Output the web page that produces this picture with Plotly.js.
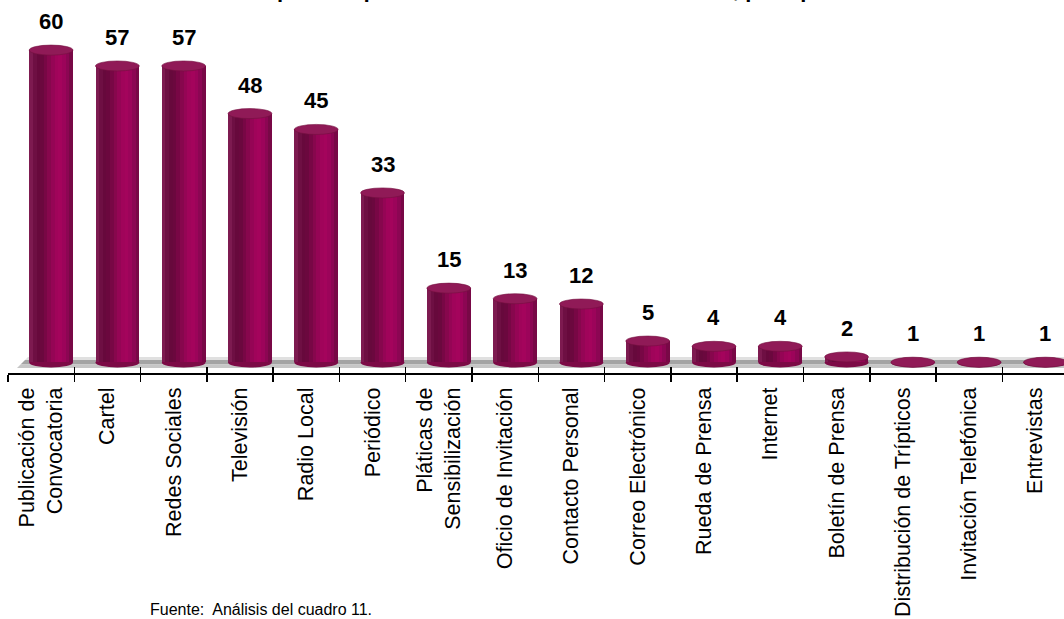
<!DOCTYPE html>
<html>
<head>
<meta charset="utf-8">
<script src="https://cdn.plot.ly/plotly-3.0.1.min.js"></script>
<style>html,body{margin:0;padding:0;background:#fff;}#chart{width:1064px;height:619px;}</style>
</head>
<body>
<div id="chart"></div>
<script>
// ---- data ----
var categories = ["Publicación de<br>Convocatoria", "Cartel", "Redes Sociales", "Televisión", "Radio Local", "Periódico",
  "Pláticas de<br>Sensibilización", "Oficio de Invitación", "Contacto Personal", "Correo Electrónico",
  "Rueda de Prensa", "Internet", "Boletín de Prensa", "Distribución de Trípticos", "Invitación Telefónica", "Entrevistas"];
var values = [60, 57, 57, 48, 45, 33, 15, 13, 12, 5, 4, 4, 2, 1, 1, 1];
var titleText = "Medios por los que se enteraron de la convocatoria, por tipo de medio";
var sourceText = "Fuente:  Análisis del cuadro 11.";

// ---- style ----
var W = 0.66;          // bar width (category units)
var SH = 0.15;         // 3D depth shift of the bars to the right (category units)
var E = 0.95;          // ellipse half-height (value units)
var stripColors = ["#7d1a50","#6e0f43","#67093c","#6b083e","#780745","#87074d","#950555","#a0045a","#a4045c","#9c045a","#8c0653","#780846"];
var topColor = "#901a57";
var bottomColor = "#7c0a46";
var FONT = "Liberation Sans, Arial, sans-serif";

var traces = [];
var N = stripColors.length;
for (var k = 0; k < N; k++) {
  traces.push({
    type: "bar", x: categories, y: values.map(function(v){ return Math.max(v - E, 0.001); }),
    base: values.map(function(){ return E; }),
    width: W - k * W / N, offset: SH - W/2 + k * W / N,
    marker: {color: stripColors[k], line: {width: 0}},
    hoverinfo: "skip", showlegend: false
  });
}
// helper trace for the second (inside-tick) axis
traces.push({type: "scatter", mode: "none", x: categories, y: values, xaxis: "x2", yaxis: "y", hoverinfo: "skip", showlegend: false});

var XR = [-0.5, 15.43];
var shapes = [];
// floor band (paper coords)
function px2fx(px){ return (px - 8) / 1056; }
function py2fy(py){ return (373 - py) / 353; }
var floorBands = [[357, 360, "#e0e0e0"], [360, 364.5, "#a4a4a4"], [364.5, 368, "#c6c6c6"]];
floorBands.forEach(function(b){
  var t = b[0], bt = b[1];
  var xl1 = 28 - (t - 357) * 1.0, xl2 = 28 - (bt - 357) * 1.0;
  shapes.push({type: "path", xref: "paper", yref: "paper", layer: "below",
    path: "M " + px2fx(xl1) + "," + py2fy(t) + " L " + px2fx(1066) + "," + py2fy(t) + " L " + px2fx(1066) + "," + py2fy(bt) + " L " + px2fx(xl2) + "," + py2fy(bt) + " Z",
    fillcolor: b[2], line: {width: 0}});
});
// bottom ellipses
values.forEach(function(v, i){
  shapes.push({type: "circle", xref: "x", yref: "y", layer: "below",
    x0: i + SH - W/2, x1: i + SH + W/2, y0: 0, y1: 2 * E, fillcolor: bottomColor, line: {width: 0}});
});
// top ellipses
values.forEach(function(v, i){
  shapes.push({type: "circle", xref: "x", yref: "y", layer: "above",
    x0: i + SH - W/2, x1: i + SH + W/2, y0: v - E, y1: v + E, fillcolor: topColor, line: {color: "#741040", width: 0.6}});
});

var annotations = values.map(function(v, i){
  return {x: i + SH, y: v, xref: "x", yref: "y", text: String(v), showarrow: false,
    yanchor: "bottom", yshift: 14, font: {family: FONT, size: 22, color: "#000", weight: "bold"}};
});
annotations.push({xref: "paper", yref: "paper", x: px2fx(148), y: py2fy(609), xanchor: "left", yanchor: "middle",
  text: sourceText, showarrow: false, font: {family: FONT, size: 16, color: "#000"}});
annotations.push({xref: "paper", yref: "paper", x: px2fx(194), y: py2fy(2.5), xanchor: "left", yanchor: "bottom",
  text: "<b>" + titleText + "</b>", showarrow: false, borderpad: 0, font: {family: FONT, size: 22, color: "#000"}});

var layout = {
  width: 1064, height: 619,
  margin: {l: 8, r: 0, t: 20, b: 246, pad: 0},
  paper_bgcolor: "#fff", plot_bgcolor: "rgba(0,0,0,0)",
  barmode: "overlay", bargap: 0,
  showlegend: false,
  xaxis: {type: "category", showline: true, linewidth: 2, linecolor: "#000", ticks: "outside", ticklen: 7, tickwidth: 1.5, tickcolor: "#000",
    tickson: "boundaries", tickangle: -90, ticklabelstandoff: 4, tickfont: {family: FONT, size: 21.5, color: "#000"}, showgrid: false, zeroline: false,
    range: XR, fixedrange: true},
  xaxis2: {type: "category", overlaying: "x", anchor: "y", side: "bottom", matches: "x", ticks: "inside", ticklen: 6, tickwidth: 1.5, tickcolor: "#000",
    tickson: "boundaries", showticklabels: false, showline: false, showgrid: false, zeroline: false},
  yaxis: {range: [-1.04, 65.69], showline: false, showgrid: false, zeroline: false, showticklabels: false, ticks: "", fixedrange: true},
  shapes: shapes,
  annotations: annotations
};

Plotly.newPlot("chart", traces, layout, {displayModeBar: false, staticPlot: true});
</script>
</body>
</html>
